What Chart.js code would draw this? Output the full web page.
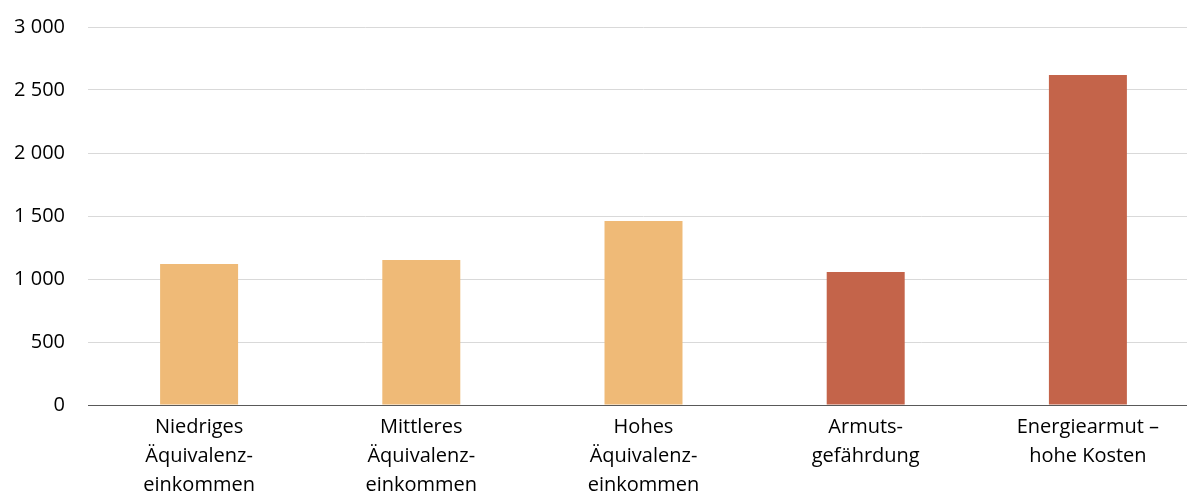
<!DOCTYPE html>
<html><head><meta charset="utf-8">
<script src="https://cdn.jsdelivr.net/npm/chart.js@4/dist/chart.umd.min.js"></script>
<style>html,body{margin:0;padding:0;background:#fff;overflow:hidden;width:1187px;height:494px}#wrap{position:absolute;left:0;top:-8px;width:1199px;height:502px}</style>
</head><body><div id="wrap"><canvas id="c" width="1199" height="502"></canvas></div>
<script>
const categories = [
  ["Niedriges", "Äquivalenz-", "einkommen"],
  ["Mittleres", "Äquivalenz-", "einkommen"],
  ["Hohes", "Äquivalenz-", "einkommen"],
  ["Armuts-", "gefährdung"],
  ["Energiearmut –", "hohe Kosten"]
];
const values = [1120, 1150, 1460, 1055, 2620];
const barColors = ["#EFBA77", "#EFBA77", "#EFBA77", "#C4644A", "#C4644A"];
const yTicks = [0, 500, 1000, 1500, 2000, 2500, 3000];

const fontFamily = "'Open Sans', sans-serif";
new Chart(document.getElementById('c'), {
  type: 'bar',
  data: { labels: categories, datasets: [{ data: values, backgroundColor: barColors, barPercentage: 0.702, categoryPercentage: 0.5 }] },
  options: {
    responsive: false, animation: false,
    layout: { padding: { top: 12, right: 0, left: 0, bottom: 0 } },
    plugins: { legend: { display: false }, tooltip: { enabled: false } },
    scales: {
      x: {
        grid: { display: false, drawTicks: false },
        border: { color: '#595959', width: 1 },
        ticks: { color: '#000000', font: { family: fontFamily, size: 20, lineHeight: 1.45 }, padding: 8, maxRotation: 0, autoSkip: false },
        afterFit: s => { s.height = 89; }
      },
      y: {
        min: 0, max: 3000,
        afterBuildTicks: s => { s.ticks = yTicks.map(v => ({ value: v })); },
        grid: { color: '#D9D9D9', lineWidth: 1, drawTicks: false },
        border: { display: false },
        ticks: { color: '#000000', font: { family: fontFamily, size: 20 }, padding: 23,
          callback: v => String(v).replace(/\B(?=(\d{3})+(?!\d))/g, ' ') },
        afterFit: s => { s.width = 88; }
      }
    }
  }
});
</script></body></html>
